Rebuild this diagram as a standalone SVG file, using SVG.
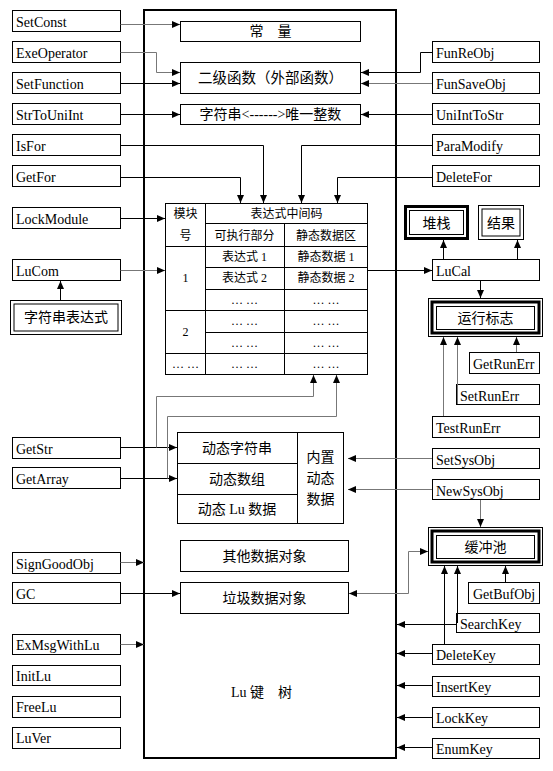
<svg xmlns="http://www.w3.org/2000/svg" width="553" height="771" viewBox="0 0 553 771">
<style>
.bx{fill:#fff;stroke:#000;stroke-width:1}
.nb{fill:none;stroke:#000;stroke-width:1}
.tk{fill:none;stroke:#000;stroke-width:3}
.t{font-family:"Liberation Serif","Noto Sans CJK SC",serif;font-size:14px;fill:#000}
.c{text-anchor:middle}
.s{font-size:12px}
.cn{fill:none;stroke:#000;stroke-width:1;marker-end:url(#a)}
.ln{fill:none;stroke:#000;stroke-width:1}
.g{stroke:#777}
</style>
<defs>
<marker id="a" markerWidth="8" markerHeight="7" refX="8" refY="3.5" orient="auto" markerUnits="userSpaceOnUse"><path d="M0,0 L8,3.5 L0,7 z" fill="#000"/></marker>
</defs>
<rect width="553" height="771" fill="#fff"/>

<g id="luKeyTree">
<rect x="144" y="10" width="252" height="748" fill="none" stroke="#000" stroke-width="2"/>
<text class="t" y="697"><tspan x="231">Lu</tspan><tspan x="250">键</tspan><tspan x="278">树</tspan></text>
</g>

<g id="const"><rect class="bx" x="180.5" y="21.5" width="180" height="20"/><text class="t c" x="270.5" y="36">常　量</text></g>
<g id="func2"><rect class="bx" x="180.5" y="62.5" width="180" height="31"/><text class="t c" x="270.5" y="83" style="font-size:14.5px">二级函数（外部函数）</text></g>
<g id="strint"><rect class="bx" x="180.5" y="104.5" width="180" height="20"/><text class="t c" x="270.5" y="119">字符串&lt;------&gt;唯一整数</text></g>

<g id="table">
<rect class="bx" x="165.5" y="203.5" width="202" height="171"/>
<path class="ln" d="M205.5,203.5V374.5M284.5,223.5V374.5M205.5,223.5H367.5M165.5,246.5H367.5M205.5,267.5H367.5M205.5,289.5H367.5M165.5,310.5H367.5M205.5,332.5H367.5M165.5,353.5H367.5"/>
<g class="t s c">
<text x="185.5" y="218">模块</text><text x="185.5" y="240">号</text>
<text x="286.5" y="218">表达式中间码</text>
<text x="244.5" y="240">可执行部分</text><text x="326" y="240">静态数据区</text>
<text x="244.5" y="261">表达式 1</text><text x="326" y="261">静态数据 1</text>
<text x="244.5" y="282">表达式 2</text><text x="326" y="282">静态数据 2</text>
<text x="244.5" y="304">… …</text><text x="326" y="304">… …</text>
<text x="244.5" y="325">… …</text><text x="326" y="325">… …</text>
<text x="244.5" y="347">… …</text><text x="326" y="347">… …</text>
<text x="244.5" y="368">… …</text><text x="326" y="368">… …</text>
<text x="185.5" y="282">1</text><text x="185.5" y="336">2</text><text x="185.5" y="368">… …</text>
</g>
</g>

<g id="dynamic">
<rect class="bx" x="177.5" y="432.5" width="166" height="91"/>
<path class="ln" d="M297.5,432.5V523.5M177.5,463.5H297.5M177.5,494.5H297.5"/>
<text class="t c" x="237" y="453">动态字符串</text>
<text class="t c" x="237" y="484">动态数组</text>
<text class="t c" x="237" y="514">动态 Lu 数据</text>
<text class="t c" x="320.5" y="462">内置</text>
<text class="t c" x="320.5" y="483">动态</text>
<text class="t c" x="320.5" y="504">数据</text>
</g>
<g id="otherObj"><rect class="bx" x="180.5" y="540.5" width="168" height="31"/><text class="t c" x="264.5" y="561">其他数据对象</text></g>
<g id="garbageObj"><rect class="bx" x="180.5" y="582.5" width="168" height="31"/><text class="t c" x="264.5" y="603">垃圾数据对象</text></g>

<g id="strExpr"><rect class="bx" x="10.5" y="300.5" width="111" height="34"/><rect class="nb" x="14" y="304" width="104" height="27" stroke-width="2"/><text class="t c" x="66" y="322">字符串表达式</text></g>
<g id="stack"><rect class="tk" x="405.5" y="206.5" width="62" height="32"/><rect class="nb" x="409.5" y="210.5" width="54" height="24"/><text class="t c" x="436.5" y="228">堆栈</text></g>
<g id="result"><rect class="bx" x="478.5" y="205.5" width="45" height="34"/><rect class="nb" x="482" y="209" width="38" height="27" stroke-width="2"/><text class="t c" x="501" y="228">结果</text></g>
<g id="runFlag"><rect class="bx" x="428.5" y="298.5" width="114" height="38"/><rect class="tk" x="432" y="302" width="107" height="31"/><rect class="nb" x="436.5" y="306.5" width="98" height="23"/><text class="t c" x="485.5" y="323">运行标志</text></g>
<g id="bufPool"><rect class="bx" x="428.5" y="527.5" width="114" height="38"/><rect class="tk" x="432" y="531" width="107" height="31"/><rect class="nb" x="436.5" y="535.5" width="98" height="23"/><text class="t c" x="485.5" y="552">缓冲池</text></g>

<g id="SetConst"><rect class="bx" x="12.5" y="10.5" width="108" height="21"/><text class="t" x="16" y="27">SetConst</text></g>
<g id="ExeOperator"><rect class="bx" x="12.5" y="41.5" width="108" height="21"/><text class="t" x="16" y="58">ExeOperator</text></g>
<g id="SetFunction"><rect class="bx" x="12.5" y="72.5" width="108" height="21"/><text class="t" x="16" y="89">SetFunction</text></g>
<g id="StrToUniInt"><rect class="bx" x="12.5" y="103.5" width="108" height="21"/><text class="t" x="16" y="120">StrToUniInt</text></g>
<g id="IsFor"><rect class="bx" x="12.5" y="134.5" width="108" height="21"/><text class="t" x="16" y="151">IsFor</text></g>
<g id="GetFor"><rect class="bx" x="12.5" y="165.5" width="108" height="21"/><text class="t" x="16" y="182">GetFor</text></g>
<g id="LockModule"><rect class="bx" x="12.5" y="207.5" width="108" height="21"/><text class="t" x="16" y="224">LockModule</text></g>
<g id="LuCom"><rect class="bx" x="12.5" y="259.5" width="108" height="21"/><text class="t" x="16" y="276">LuCom</text></g>
<g id="GetStr"><rect class="bx" x="12.5" y="437.5" width="108" height="21"/><text class="t" x="16" y="454">GetStr</text></g>
<g id="GetArray"><rect class="bx" x="12.5" y="467.5" width="108" height="21"/><text class="t" x="16" y="484">GetArray</text></g>
<g id="SignGoodObj"><rect class="bx" x="12.5" y="552.5" width="108" height="21"/><text class="t" x="16" y="569">SignGoodObj</text></g>
<g id="GC"><rect class="bx" x="12.5" y="582.5" width="108" height="21"/><text class="t" x="16" y="599">GC</text></g>
<g id="ExMsgWithLu"><rect class="bx" x="12.5" y="634.5" width="108" height="20"/><text class="t" x="16" y="650">ExMsgWithLu</text></g>
<g id="InitLu"><rect class="bx" x="12.5" y="665.5" width="108" height="20"/><text class="t" x="16" y="681">InitLu</text></g>
<g id="FreeLu"><rect class="bx" x="12.5" y="696.5" width="108" height="21"/><text class="t" x="16" y="712">FreeLu</text></g>
<g id="LuVer"><rect class="bx" x="12.5" y="727.5" width="108" height="21"/><text class="t" x="16" y="743">LuVer</text></g>

<g id="FunReObj"><rect class="bx" x="432.5" y="41.5" width="107" height="21"/><text class="t" x="436" y="58">FunReObj</text></g>
<g id="FunSaveObj"><rect class="bx" x="432.5" y="72.5" width="107" height="21"/><text class="t" x="436" y="89">FunSaveObj</text></g>
<g id="UniIntToStr"><rect class="bx" x="432.5" y="103.5" width="107" height="21"/><text class="t" x="436" y="120">UniIntToStr</text></g>
<g id="ParaModify"><rect class="bx" x="432.5" y="134.5" width="107" height="21"/><text class="t" x="436" y="151">ParaModify</text></g>
<g id="DeleteFor"><rect class="bx" x="432.5" y="165.5" width="107" height="21"/><text class="t" x="436" y="182">DeleteFor</text></g>
<g id="LuCal"><rect class="bx" x="432.5" y="259.5" width="107" height="21"/><text class="t" x="436" y="276">LuCal</text></g>
<g id="GetRunErr"><rect class="bx" x="469.5" y="352.5" width="70" height="21"/><text class="t" x="473" y="369">GetRunErr</text></g>
<g id="SetRunErr"><rect class="bx" x="456.5" y="384.5" width="83" height="20"/><text class="t" x="460" y="401">SetRunErr</text></g>
<g id="TestRunErr"><rect class="bx" x="432.5" y="416.5" width="107" height="21"/><text class="t" x="436" y="433">TestRunErr</text></g>
<g id="SetSysObj"><rect class="bx" x="432.5" y="448.5" width="107" height="20"/><text class="t" x="436" y="465">SetSysObj</text></g>
<g id="NewSysObj"><rect class="bx" x="432.5" y="479.5" width="107" height="20"/><text class="t" x="436" y="496">NewSysObj</text></g>
<g id="GetBufObj"><rect class="bx" x="468.5" y="582.5" width="71" height="21"/><text class="t" x="473" y="599">GetBufObj</text></g>
<g id="SearchKey"><rect class="bx" x="456.5" y="613.5" width="83" height="19"/><text class="t" x="460" y="629">SearchKey</text></g>
<g id="DeleteKey"><rect class="bx" x="432.5" y="644.5" width="107" height="20"/><text class="t" x="436" y="660">DeleteKey</text></g>
<g id="InsertKey"><rect class="bx" x="432.5" y="676.5" width="107" height="20"/><text class="t" x="436" y="692">InsertKey</text></g>
<g id="LockKey"><rect class="bx" x="432.5" y="707.5" width="107" height="20"/><text class="t" x="436" y="723">LockKey</text></g>
<g id="EnumKey"><rect class="bx" x="432.5" y="738.5" width="107" height="20"/><text class="t" x="436" y="754">EnumKey</text></g>

<g id="connectors">
<path class="cn g" d="M120.5,24.5H180"/>
<path class="cn g" d="M120.5,52.5H156.5V72.5H180"/>
<path class="cn" d="M120.5,83.5H180"/>
<path class="cn" d="M120.5,114.5H180"/>
<path class="cn" d="M432,52.5H420.5V72.5H361"/>
<path class="cn g" d="M432,83.5H361"/>
<path class="cn" d="M432,114.5H361"/>
<path class="cn" d="M120.5,145.5H263.5V203"/>
<path class="cn" d="M120.5,177.5H240.5V203"/>
<path class="cn" d="M432,145.5H301.5V203"/>
<path class="cn" d="M432,177.5H337.5V203"/>
<path class="cn" d="M120.5,218.5H165"/>
<path class="cn g" d="M120.5,270.5H165"/>
<path class="cn" d="M60.5,300V281"/>
<path class="cn" d="M368,270.5H432"/>
<path class="cn" d="M443.5,259V240"/>
<path class="cn" d="M517.5,259V240"/>
<path class="cn" d="M480.5,281V298"/>
<path class="cn g" d="M516.5,352V337"/>
<path class="cn g" d="M457.5,404V337"/>
<path class="cn g" d="M443.5,416V337"/>
<path class="cn" d="M120.5,447.5H177"/>
<path class="cn g" d="M156.5,447.5V396.5H313.5V375"/>
<path class="cn" d="M120.5,478.5H177"/>
<path class="cn g" d="M167.5,478.5V416.5H336.5V375"/>
<path class="cn g" d="M432,458.5H348"/>
<path class="cn g" d="M432,489.5H348"/>
<path class="cn g" d="M480.5,500V527"/>
<path class="cn g" d="M120.5,562.5H144"/>
<path class="cn" d="M120.5,593.5H180"/>
<path class="cn g" d="M408.5,551.5H428"/>
<path class="cn g" d="M408.5,551.5V593.5H349"/>
<path class="cn" d="M505.5,582V566"/>
<path class="cn" d="M457.5,623V566"/>
<path class="cn" d="M444.5,644V566"/>
<path class="cn" d="M456,624.5H397"/>
<path class="cn" d="M432,653.5H397"/>
<path class="cn" d="M432,685.5H397"/>
<path class="cn" d="M432,717.5H397"/>
<path class="cn" d="M432,747.5H397"/>
<path class="cn g" d="M120.5,644.5H144"/>
</g>
</svg>
